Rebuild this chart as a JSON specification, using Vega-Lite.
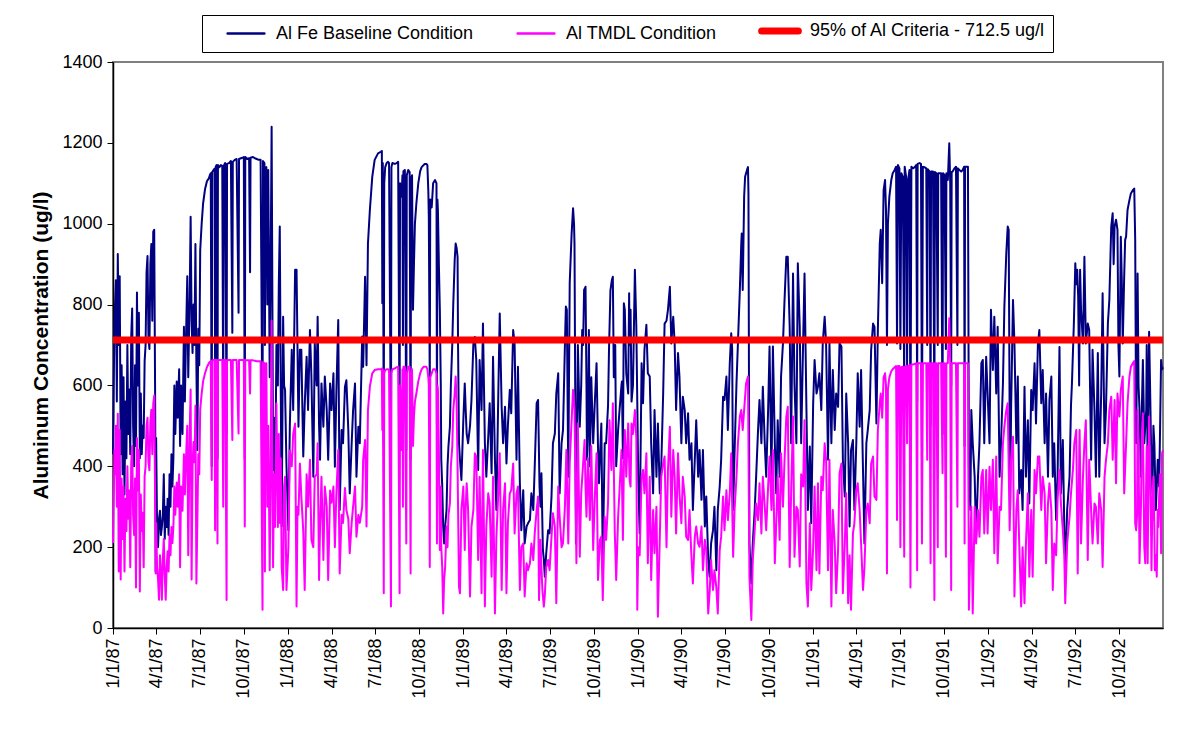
{
"$schema": "https://vega.github.io/schema/vega-lite/v6.json",
"width": 1050, "height": 566,
"autosize": {"type": "none"},
"padding": {"left": 113, "top": 62, "right": 33, "bottom": 110},
"background": "white",
"config": {"font": "Liberation Sans", "view": {"stroke": "#808080", "strokeWidth": 2}},
"layer": [
{
"data": {"values": [
{"s":"B","d":0,"v":430},{"s":"B","d":3,"v":760},{"s":"B","d":6,"v":860},{"s":"B","d":8,"v":560},{"s":"B","d":10,"v":925},{"s":"B","d":12,"v":700},{"s":"B","d":14,"v":870},{"s":"B","d":16,"v":430},{"s":"B","d":18,"v":650},{"s":"B","d":20,"v":380},{"s":"B","d":22,"v":620},{"s":"B","d":24,"v":330},{"s":"B","d":26,"v":560},{"s":"B","d":28,"v":420},{"s":"B","d":30,"v":700},{"s":"B","d":32,"v":480},{"s":"B","d":34,"v":590},{"s":"B","d":36,"v":430},{"s":"B","d":38,"v":720},{"s":"B","d":40,"v":790},{"s":"B","d":42,"v":500},{"s":"B","d":44,"v":400},{"s":"B","d":46,"v":650},{"s":"B","d":48,"v":450},{"s":"B","d":50,"v":830},{"s":"B","d":52,"v":600},{"s":"B","d":54,"v":780},{"s":"B","d":56,"v":420},{"s":"B","d":58,"v":580},{"s":"B","d":60,"v":430},{"s":"B","d":62,"v":500},{"s":"B","d":64,"v":470},{"s":"B","d":66,"v":660},{"s":"B","d":68,"v":700},{"s":"B","d":70,"v":880},{"s":"B","d":72,"v":920},{"s":"B","d":74,"v":720},{"s":"B","d":76,"v":690},{"s":"B","d":78,"v":900},{"s":"B","d":80,"v":950},{"s":"B","d":82,"v":760},{"s":"B","d":84,"v":980},{"s":"B","d":86,"v":985},{"s":"B","d":88,"v":550},{"s":"B","d":89,"v":140},{"s":"B","d":90,"v":470},{"s":"B","d":92,"v":250},{"s":"B","d":94,"v":200},{"s":"B","d":96,"v":270},{"s":"B","d":98,"v":290},{"s":"B","d":100,"v":230},{"s":"B","d":102,"v":250},{"s":"B","d":104,"v":280},{"s":"B","d":106,"v":380},{"s":"B","d":108,"v":220},{"s":"B","d":110,"v":300},{"s":"B","d":112,"v":250},{"s":"B","d":114,"v":320},{"s":"B","d":116,"v":230},{"s":"B","d":118,"v":380},{"s":"B","d":120,"v":300},{"s":"B","d":122,"v":430},{"s":"B","d":124,"v":350},{"s":"B","d":126,"v":420},{"s":"B","d":128,"v":600},{"s":"B","d":130,"v":480},{"s":"B","d":133,"v":610},{"s":"B","d":135,"v":520},{"s":"B","d":138,"v":640},{"s":"B","d":140,"v":450},{"s":"B","d":142,"v":600},{"s":"B","d":145,"v":480},{"s":"B","d":148,"v":745},{"s":"B","d":150,"v":560},{"s":"B","d":152,"v":700},{"s":"B","d":155,"v":870},{"s":"B","d":157,"v":620},{"s":"B","d":160,"v":820},{"s":"B","d":162,"v":1017},{"s":"B","d":164,"v":760},{"s":"B","d":166,"v":680},{"s":"B","d":168,"v":800},{"s":"B","d":170,"v":700},{"s":"B","d":172,"v":950},{"s":"B","d":174,"v":650},{"s":"B","d":176,"v":440},{"s":"B","d":178,"v":740},{"s":"B","d":180,"v":650},{"s":"B","d":182,"v":935},{"s":"B","d":185,"v":1000},{"s":"B","d":188,"v":1050},{"s":"B","d":192,"v":1085},{"s":"B","d":196,"v":1105},{"s":"B","d":200,"v":1112},{"s":"B","d":202,"v":1120},{"s":"B","d":204,"v":1125},{"s":"B","d":206,"v":400},{"s":"B","d":207,"v":1128},{"s":"B","d":210,"v":1133},{"s":"B","d":212,"v":1136},{"s":"B","d":213,"v":620},{"s":"B","d":214,"v":1140},{"s":"B","d":216,"v":1145},{"s":"B","d":218,"v":420},{"s":"B","d":219,"v":1145},{"s":"B","d":222,"v":1140},{"s":"B","d":225,"v":1145},{"s":"B","d":228,"v":1143},{"s":"B","d":230,"v":520},{"s":"B","d":231,"v":1143},{"s":"B","d":234,"v":1150},{"s":"B","d":237,"v":480},{"s":"B","d":238,"v":1148},{"s":"B","d":242,"v":1150},{"s":"B","d":246,"v":1155},{"s":"B","d":249,"v":730},{"s":"B","d":250,"v":1153},{"s":"B","d":254,"v":1158},{"s":"B","d":258,"v":1160},{"s":"B","d":262,"v":780},{"s":"B","d":263,"v":1160},{"s":"B","d":267,"v":1162},{"s":"B","d":270,"v":1163},{"s":"B","d":273,"v":1165},{"s":"B","d":275,"v":420},{"s":"B","d":276,"v":1165},{"s":"B","d":280,"v":1160},{"s":"B","d":284,"v":1162},{"s":"B","d":286,"v":880},{"s":"B","d":287,"v":1163},{"s":"B","d":292,"v":1165},{"s":"B","d":296,"v":1162},{"s":"B","d":300,"v":1160},{"s":"B","d":304,"v":1158},{"s":"B","d":308,"v":1158},{"s":"B","d":312,"v":440},{"s":"B","d":313,"v":1155},{"s":"B","d":316,"v":1150},{"s":"B","d":317,"v":700},{"s":"B","d":318,"v":1130},{"s":"B","d":320,"v":1140},{"s":"B","d":322,"v":800},{"s":"B","d":324,"v":1133},{"s":"B","d":327,"v":620},{"s":"B","d":329,"v":900},{"s":"B","d":331,"v":1240},{"s":"B","d":333,"v":700},{"s":"B","d":334,"v":391},{"s":"B","d":336,"v":520},{"s":"B","d":338,"v":300},{"s":"B","d":341,"v":700},{"s":"B","d":344,"v":600},{"s":"B","d":346,"v":850},{"s":"B","d":348,"v":993},{"s":"B","d":350,"v":600},{"s":"B","d":352,"v":251},{"s":"B","d":355,"v":770},{"s":"B","d":357,"v":600},
{"s":"B","d":359,"v":589},{"s":"B","d":362,"v":400},{"s":"B","d":366,"v":242},{"s":"B","d":369,"v":500},{"s":"B","d":373,"v":688},{"s":"B","d":376,"v":539},{"s":"B","d":380,"v":886},{"s":"B","d":383,"v":886},{"s":"B","d":387,"v":498},{"s":"B","d":390,"v":688},{"s":"B","d":393,"v":688},{"s":"B","d":397,"v":424},{"s":"B","d":400,"v":550},{"s":"B","d":404,"v":671},{"s":"B","d":407,"v":539},{"s":"B","d":411,"v":737},{"s":"B","d":414,"v":622},{"s":"B","d":418,"v":374},{"s":"B","d":421,"v":704},{"s":"B","d":425,"v":600},{"s":"B","d":427,"v":770},{"s":"B","d":430,"v":500},{"s":"B","d":432,"v":416},{"s":"B","d":435,"v":605},{"s":"B","d":439,"v":498},{"s":"B","d":442,"v":622},{"s":"B","d":446,"v":539},{"s":"B","d":449,"v":416},{"s":"B","d":453,"v":605},{"s":"B","d":456,"v":539},{"s":"B","d":460,"v":630},{"s":"B","d":463,"v":399},{"s":"B","d":466,"v":580},{"s":"B","d":470,"v":762},{"s":"B","d":473,"v":292},{"s":"B","d":477,"v":490},{"s":"B","d":480,"v":457},{"s":"B","d":484,"v":597},{"s":"B","d":487,"v":613},{"s":"B","d":491,"v":490},{"s":"B","d":494,"v":333},{"s":"B","d":498,"v":457},{"s":"B","d":501,"v":539},{"s":"B","d":505,"v":605},{"s":"B","d":508,"v":374},{"s":"B","d":512,"v":498},{"s":"B","d":515,"v":457},{"s":"B","d":520,"v":721},{"s":"B","d":522,"v":646},{"s":"B","d":526,"v":869},{"s":"B","d":529,"v":650},{"s":"B","d":532,"v":951},{"s":"B","d":536,"v":1034},{"s":"B","d":541,"v":1116},{"s":"B","d":546,"v":1158},{"s":"B","d":553,"v":1174},{"s":"B","d":559,"v":1178},{"s":"B","d":561,"v":1180},{"s":"B","d":562,"v":803},{"s":"B","d":563,"v":1150},{"s":"B","d":565,"v":457},{"s":"B","d":566,"v":1100},{"s":"B","d":568,"v":1140},{"s":"B","d":571,"v":1150},{"s":"B","d":574,"v":1153},{"s":"B","d":576,"v":1150},{"s":"B","d":580,"v":432},{"s":"B","d":581,"v":1140},{"s":"B","d":583,"v":1150},{"s":"B","d":588,"v":1148},{"s":"B","d":592,"v":1150},{"s":"B","d":595,"v":1153},{"s":"B","d":598,"v":457},{"s":"B","d":599,"v":1100},{"s":"B","d":602,"v":1067},{"s":"B","d":604,"v":1120},{"s":"B","d":605,"v":700},{"s":"B","d":606,"v":1130},{"s":"B","d":609,"v":1133},{"s":"B","d":612,"v":440},{"s":"B","d":613,"v":1120},{"s":"B","d":616,"v":1133},{"s":"B","d":619,"v":1128},{"s":"B","d":621,"v":416},{"s":"B","d":622,"v":1110},{"s":"B","d":624,"v":1120},{"s":"B","d":626,"v":787},{"s":"B","d":628,"v":900},{"s":"B","d":630,"v":1000},{"s":"B","d":633,"v":1050},{"s":"B","d":637,"v":1100},{"s":"B","d":641,"v":1130},{"s":"B","d":644,"v":1140},{"s":"B","d":648,"v":1145},{"s":"B","d":651,"v":1148},{"s":"B","d":654,"v":1148},{"s":"B","d":656,"v":1145},{"s":"B","d":658,"v":1080},{"s":"B","d":659,"v":1017},{"s":"B","d":661,"v":600},{"s":"B","d":662,"v":1060},{"s":"B","d":665,"v":1040},{"s":"B","d":668,"v":1100},{"s":"B","d":672,"v":1108},{"s":"B","d":675,"v":1100},{"s":"B","d":676,"v":500},{"s":"B","d":677,"v":1060},{"s":"B","d":678,"v":1034},{"s":"B","d":680,"v":900},{"s":"B","d":682,"v":787},{"s":"B","d":684,"v":600},{"s":"B","d":685,"v":416},{"s":"B","d":687,"v":350},{"s":"B","d":689,"v":250},{"s":"B","d":691,"v":209},{"s":"B","d":693,"v":250},{"s":"B","d":696,"v":292},{"s":"B","d":698,"v":400},{"s":"B","d":700,"v":450},{"s":"B","d":703,"v":498},{"s":"B","d":705,"v":600},{"s":"B","d":708,"v":704},{"s":"B","d":710,"v":800},{"s":"B","d":713,"v":910},{"s":"B","d":715,"v":951},{"s":"B","d":717,"v":940},{"s":"B","d":719,"v":918},{"s":"B","d":720,"v":700},{"s":"B","d":722,"v":457},
{"s":"B","d":724,"v":416},{"s":"B","d":727,"v":366},{"s":"B","d":731,"v":514},{"s":"B","d":734,"v":605},{"s":"B","d":736,"v":539},{"s":"B","d":738,"v":480},{"s":"B","d":741,"v":457},{"s":"B","d":745,"v":500},{"s":"B","d":748,"v":564},{"s":"B","d":752,"v":704},{"s":"B","d":755,"v":720},{"s":"B","d":758,"v":663},{"s":"B","d":762,"v":391},{"s":"B","d":765,"v":663},{"s":"B","d":769,"v":539},{"s":"B","d":772,"v":753},{"s":"B","d":776,"v":457},{"s":"B","d":779,"v":374},{"s":"B","d":783,"v":473},{"s":"B","d":786,"v":556},{"s":"B","d":790,"v":383},{"s":"B","d":793,"v":671},{"s":"B","d":797,"v":416},{"s":"B","d":800,"v":292},{"s":"B","d":804,"v":580},{"s":"B","d":807,"v":778},{"s":"B","d":811,"v":547},{"s":"B","d":814,"v":457},{"s":"B","d":818,"v":547},{"s":"B","d":821,"v":407},{"s":"B","d":824,"v":500},{"s":"B","d":828,"v":589},{"s":"B","d":831,"v":531},{"s":"B","d":835,"v":737},{"s":"B","d":838,"v":704},{"s":"B","d":842,"v":416},{"s":"B","d":845,"v":646},{"s":"B","d":849,"v":358},{"s":"B","d":852,"v":242},{"s":"B","d":856,"v":341},{"s":"B","d":859,"v":209},{"s":"B","d":863,"v":251},{"s":"B","d":866,"v":259},{"s":"B","d":870,"v":267},{"s":"B","d":873,"v":333},{"s":"B","d":877,"v":292},{"s":"B","d":880,"v":399},{"s":"B","d":884,"v":556},{"s":"B","d":887,"v":564},{"s":"B","d":890,"v":350},{"s":"B","d":892,"v":300},{"s":"B","d":894,"v":383},{"s":"B","d":897,"v":193},{"s":"B","d":899,"v":170},{"s":"B","d":901,"v":127},{"s":"B","d":904,"v":185},{"s":"B","d":908,"v":242},{"s":"B","d":911,"v":234},{"s":"B","d":915,"v":325},{"s":"B","d":918,"v":457},{"s":"B","d":922,"v":481},{"s":"B","d":925,"v":580},{"s":"B","d":929,"v":630},{"s":"B","d":932,"v":333},{"s":"B","d":936,"v":457},{"s":"B","d":939,"v":490},{"s":"B","d":943,"v":700},{"s":"B","d":945,"v":795},{"s":"B","d":947,"v":787},{"s":"B","d":950,"v":374},{"s":"B","d":953,"v":853},{"s":"B","d":957,"v":976},{"s":"B","d":960,"v":1038},{"s":"B","d":962,"v":1000},{"s":"B","d":963,"v":951},{"s":"B","d":966,"v":209},{"s":"B","d":967,"v":300},{"s":"B","d":970,"v":700},{"s":"B","d":974,"v":498},{"s":"B","d":977,"v":600},{"s":"B","d":979,"v":737},{"s":"B","d":981,"v":700},{"s":"B","d":983,"v":836},{"s":"B","d":986,"v":844},{"s":"B","d":988,"v":600},{"s":"B","d":989,"v":416},{"s":"B","d":991,"v":500},{"s":"B","d":993,"v":737},{"s":"B","d":995,"v":400},{"s":"B","d":998,"v":620},{"s":"B","d":1002,"v":457},{"s":"B","d":1005,"v":547},{"s":"B","d":1009,"v":655},{"s":"B","d":1012,"v":450},{"s":"B","d":1014,"v":358},{"s":"B","d":1016,"v":420},{"s":"B","d":1019,"v":506},{"s":"B","d":1022,"v":160},{"s":"B","d":1026,"v":457},{"s":"B","d":1029,"v":457},{"s":"B","d":1033,"v":550},{"s":"B","d":1035,"v":688},{"s":"B","d":1038,"v":836},{"s":"B","d":1041,"v":861},{"s":"B","d":1043,"v":869},{"s":"B","d":1045,"v":620},{"s":"B","d":1048,"v":700},{"s":"B","d":1050,"v":400},{"s":"B","d":1054,"v":490},{"s":"B","d":1057,"v":539},{"s":"B","d":1061,"v":600},{"s":"B","d":1062,"v":610},{"s":"B","d":1064,"v":420},{"s":"B","d":1066,"v":803},{"s":"B","d":1068,"v":787},{"s":"B","d":1071,"v":630},{"s":"B","d":1075,"v":580},{"s":"B","d":1077,"v":828},{"s":"B","d":1078,"v":700},{"s":"B","d":1080,"v":787},{"s":"B","d":1082,"v":560},{"s":"B","d":1085,"v":600},
{"s":"B","d":1089,"v":886},{"s":"B","d":1092,"v":745},{"s":"B","d":1096,"v":374},{"s":"B","d":1099,"v":234},{"s":"B","d":1103,"v":655},{"s":"B","d":1106,"v":556},{"s":"B","d":1109,"v":688},{"s":"B","d":1113,"v":750},{"s":"B","d":1116,"v":630},{"s":"B","d":1120,"v":622},{"s":"B","d":1123,"v":457},{"s":"B","d":1127,"v":333},{"s":"B","d":1130,"v":539},{"s":"B","d":1134,"v":374},{"s":"B","d":1137,"v":506},{"s":"B","d":1141,"v":333},{"s":"B","d":1144,"v":399},{"s":"B","d":1148,"v":580},{"s":"B","d":1151,"v":753},{"s":"B","d":1155,"v":760},{"s":"B","d":1158,"v":787},{"s":"B","d":1162,"v":844},{"s":"B","d":1165,"v":704},{"s":"B","d":1169,"v":770},{"s":"B","d":1172,"v":704},{"s":"B","d":1175,"v":539},{"s":"B","d":1179,"v":680},{"s":"B","d":1182,"v":622},{"s":"B","d":1186,"v":457},{"s":"B","d":1189,"v":572},{"s":"B","d":1193,"v":539},{"s":"B","d":1196,"v":457},{"s":"B","d":1200,"v":531},{"s":"B","d":1203,"v":416},{"s":"B","d":1207,"v":457},{"s":"B","d":1210,"v":292},{"s":"B","d":1214,"v":416},{"s":"B","d":1217,"v":514},{"s":"B","d":1221,"v":374},{"s":"B","d":1224,"v":440},{"s":"B","d":1228,"v":317},{"s":"B","d":1231,"v":440},{"s":"B","d":1235,"v":251},{"s":"B","d":1238,"v":325},{"s":"B","d":1242,"v":168},{"s":"B","d":1245,"v":127},{"s":"B","d":1248,"v":209},{"s":"B","d":1252,"v":242},{"s":"B","d":1255,"v":300},{"s":"B","d":1259,"v":143},{"s":"B","d":1262,"v":292},{"s":"B","d":1266,"v":350},{"s":"B","d":1269,"v":416},{"s":"B","d":1273,"v":572},{"s":"B","d":1276,"v":564},{"s":"B","d":1280,"v":622},{"s":"B","d":1283,"v":490},{"s":"B","d":1287,"v":655},{"s":"B","d":1290,"v":729},{"s":"B","d":1292,"v":690},{"s":"B","d":1294,"v":292},{"s":"B","d":1297,"v":432},{"s":"B","d":1301,"v":605},{"s":"B","d":1304,"v":704},{"s":"B","d":1308,"v":836},{"s":"B","d":1311,"v":951},{"s":"B","d":1312,"v":976},{"s":"B","d":1314,"v":836},{"s":"B","d":1317,"v":1067},{"s":"B","d":1319,"v":1116},{"s":"B","d":1321,"v":1125},{"s":"B","d":1323,"v":1133},{"s":"B","d":1325,"v":1140},{"s":"B","d":1326,"v":1075},{"s":"B","d":1328,"v":209},{"s":"B","d":1332,"v":110},{"s":"B","d":1335,"v":209},{"s":"B","d":1339,"v":292},{"s":"B","d":1342,"v":374},{"s":"B","d":1346,"v":490},{"s":"B","d":1349,"v":564},{"s":"B","d":1353,"v":457},{"s":"B","d":1356,"v":597},{"s":"B","d":1360,"v":457},{"s":"B","d":1363,"v":374},{"s":"B","d":1367,"v":539},{"s":"B","d":1370,"v":696},{"s":"B","d":1374,"v":374},{"s":"B","d":1377,"v":696},{"s":"B","d":1381,"v":457},{"s":"B","d":1384,"v":333},{"s":"B","d":1387,"v":514},{"s":"B","d":1391,"v":374},{"s":"B","d":1394,"v":622},{"s":"B","d":1398,"v":704},{"s":"B","d":1401,"v":803},{"s":"B","d":1405,"v":918},{"s":"B","d":1408,"v":918},{"s":"B","d":1412,"v":745},{"s":"B","d":1415,"v":457},{"s":"B","d":1419,"v":877},{"s":"B","d":1422,"v":605},{"s":"B","d":1426,"v":457},{"s":"B","d":1429,"v":902},{"s":"B","d":1433,"v":745},{"s":"B","d":1436,"v":457},{"s":"B","d":1440,"v":704},{"s":"B","d":1443,"v":877},{"s":"B","d":1447,"v":540},{"s":"B","d":1450,"v":292},
{"s":"B","d":1454,"v":449},{"s":"B","d":1457,"v":259},{"s":"B","d":1461,"v":556},{"s":"B","d":1464,"v":663},{"s":"B","d":1468,"v":580},{"s":"B","d":1471,"v":597},{"s":"B","d":1474,"v":630},{"s":"B","d":1478,"v":539},{"s":"B","d":1481,"v":704},{"s":"B","d":1485,"v":770},{"s":"B","d":1488,"v":704},{"s":"B","d":1492,"v":416},{"s":"B","d":1495,"v":704},{"s":"B","d":1499,"v":457},{"s":"B","d":1502,"v":638},{"s":"B","d":1506,"v":490},{"s":"B","d":1509,"v":580},{"s":"B","d":1513,"v":547},{"s":"B","d":1516,"v":704},{"s":"B","d":1520,"v":696},{"s":"B","d":1523,"v":416},{"s":"B","d":1527,"v":325},{"s":"B","d":1530,"v":580},{"s":"B","d":1534,"v":457},{"s":"B","d":1537,"v":251},{"s":"B","d":1540,"v":440},{"s":"B","d":1544,"v":465},{"s":"B","d":1547,"v":292},{"s":"B","d":1551,"v":457},{"s":"B","d":1554,"v":630},{"s":"B","d":1558,"v":498},{"s":"B","d":1561,"v":638},{"s":"B","d":1565,"v":391},{"s":"B","d":1568,"v":209},{"s":"B","d":1572,"v":457},{"s":"B","d":1575,"v":490},{"s":"B","d":1579,"v":539},{"s":"B","d":1582,"v":688},{"s":"B","d":1586,"v":753},{"s":"B","d":1589,"v":745},{"s":"B","d":1593,"v":506},{"s":"B","d":1596,"v":737},{"s":"B","d":1600,"v":951},{"s":"B","d":1602,"v":985},{"s":"B","d":1605,"v":853},{"s":"B","d":1608,"v":1083},{"s":"B","d":1611,"v":1108},{"s":"B","d":1613,"v":1034},{"s":"B","d":1615,"v":700},{"s":"B","d":1617,"v":1000},{"s":"B","d":1620,"v":1067},{"s":"B","d":1624,"v":1108},{"s":"B","d":1627,"v":1125},{"s":"B","d":1631,"v":1133},{"s":"B","d":1634,"v":1141},{"s":"B","d":1636,"v":704},{"s":"B","d":1638,"v":1145},{"s":"B","d":1641,"v":1137},{"s":"B","d":1643,"v":690},{"s":"B","d":1645,"v":1125},{"s":"B","d":1648,"v":1116},{"s":"B","d":1651,"v":600},{"s":"B","d":1652,"v":1141},{"s":"B","d":1655,"v":1116},{"s":"B","d":1657,"v":650},{"s":"B","d":1659,"v":1108},{"s":"B","d":1662,"v":1133},{"s":"B","d":1664,"v":430},{"s":"B","d":1666,"v":1141},{"s":"B","d":1669,"v":1137},{"s":"B","d":1673,"v":1140},{"s":"B","d":1676,"v":1145},{"s":"B","d":1678,"v":560},{"s":"B","d":1679,"v":1148},{"s":"B","d":1683,"v":1150},{"s":"B","d":1686,"v":1148},{"s":"B","d":1688,"v":450},{"s":"B","d":1690,"v":1141},{"s":"B","d":1693,"v":1140},{"s":"B","d":1697,"v":1137},{"s":"B","d":1699,"v":700},{"s":"B","d":1700,"v":1135},{"s":"B","d":1704,"v":1129},{"s":"B","d":1706,"v":500},{"s":"B","d":1707,"v":1129},{"s":"B","d":1711,"v":1129},{"s":"B","d":1714,"v":520},{"s":"B","d":1715,"v":1128},{"s":"B","d":1718,"v":1125},{"s":"B","d":1721,"v":700},{"s":"B","d":1722,"v":1125},{"s":"B","d":1725,"v":1125},{"s":"B","d":1728,"v":1125},{"s":"B","d":1731,"v":480},{"s":"B","d":1732,"v":1125},{"s":"B","d":1735,"v":1121},{"s":"B","d":1738,"v":690},{"s":"B","d":1739,"v":1125},{"s":"B","d":1742,"v":1108},{"s":"B","d":1745,"v":1199},{"s":"B","d":1747,"v":1100},{"s":"B","d":1749,"v":600},{"s":"B","d":1750,"v":1128},{"s":"B","d":1752,"v":1129},{"s":"B","d":1756,"v":1137},{"s":"B","d":1759,"v":1141},{"s":"B","d":1762,"v":700},{"s":"B","d":1763,"v":1137},{"s":"B","d":1766,"v":1133},{"s":"B","d":1770,"v":1129},{"s":"B","d":1773,"v":1133},{"s":"B","d":1776,"v":1141},{"s":"B","d":1777,"v":450},{"s":"B","d":1778,"v":1141},{"s":"B","d":1780,"v":1141},{"s":"B","d":1784,"v":1141},{"s":"B","d":1786,"v":400},{"s":"B","d":1789,"v":292},{"s":"B","d":1791,"v":539},{"s":"B","d":1794,"v":457},{"s":"B","d":1798,"v":374},{"s":"B","d":1801,"v":226},{"s":"B","d":1805,"v":374},{"s":"B","d":1808,"v":457},{"s":"B","d":1812,"v":655},{"s":"B","d":1815,"v":663},{"s":"B","d":1818,"v":457},
{"s":"B","d":1822,"v":671},{"s":"B","d":1825,"v":580},{"s":"B","d":1829,"v":457},{"s":"B","d":1832,"v":787},{"s":"B","d":1836,"v":638},{"s":"B","d":1839,"v":770},{"s":"B","d":1843,"v":580},{"s":"B","d":1846,"v":745},{"s":"B","d":1850,"v":374},{"s":"B","d":1853,"v":457},{"s":"B","d":1857,"v":605},{"s":"B","d":1860,"v":795},{"s":"B","d":1864,"v":927},{"s":"B","d":1867,"v":993},{"s":"B","d":1869,"v":985},{"s":"B","d":1872,"v":292},{"s":"B","d":1874,"v":539},{"s":"B","d":1878,"v":811},{"s":"B","d":1881,"v":704},{"s":"B","d":1885,"v":457},{"s":"B","d":1888,"v":622},{"s":"B","d":1891,"v":333},{"s":"B","d":1895,"v":391},{"s":"B","d":1898,"v":292},{"s":"B","d":1902,"v":597},{"s":"B","d":1905,"v":374},{"s":"B","d":1909,"v":514},{"s":"B","d":1912,"v":308},{"s":"B","d":1916,"v":589},{"s":"B","d":1919,"v":539},{"s":"B","d":1923,"v":655},{"s":"B","d":1926,"v":506},{"s":"B","d":1930,"v":704},{"s":"B","d":1933,"v":737},{"s":"B","d":1937,"v":556},{"s":"B","d":1940,"v":638},{"s":"B","d":1944,"v":457},{"s":"B","d":1947,"v":580},{"s":"B","d":1951,"v":374},{"s":"B","d":1954,"v":564},{"s":"B","d":1958,"v":622},{"s":"B","d":1961,"v":374},{"s":"B","d":1964,"v":457},{"s":"B","d":1968,"v":267},{"s":"B","d":1971,"v":374},{"s":"B","d":1975,"v":695},{"s":"B","d":1978,"v":333},{"s":"B","d":1982,"v":465},{"s":"B","d":1985,"v":250},{"s":"B","d":1987,"v":143},{"s":"B","d":1991,"v":292},{"s":"B","d":1996,"v":374},{"s":"B","d":1999,"v":550},{"s":"B","d":2001,"v":605},{"s":"B","d":2005,"v":753},{"s":"B","d":2008,"v":902},{"s":"B","d":2010,"v":850},{"s":"B","d":2012,"v":886},{"s":"B","d":2014,"v":820},{"s":"B","d":2016,"v":600},{"s":"B","d":2018,"v":886},{"s":"B","d":2020,"v":787},{"s":"B","d":2024,"v":704},{"s":"B","d":2027,"v":918},{"s":"B","d":2030,"v":704},{"s":"B","d":2034,"v":753},{"s":"B","d":2037,"v":737},{"s":"B","d":2041,"v":416},{"s":"B","d":2044,"v":688},{"s":"B","d":2048,"v":539},{"s":"B","d":2051,"v":374},{"s":"B","d":2055,"v":680},{"s":"B","d":2058,"v":374},{"s":"B","d":2062,"v":580},{"s":"B","d":2065,"v":828},{"s":"B","d":2069,"v":457},{"s":"B","d":2072,"v":539},{"s":"B","d":2076,"v":754},{"s":"B","d":2079,"v":811},{"s":"B","d":2083,"v":993},{"s":"B","d":2086,"v":1026},{"s":"B","d":2088,"v":900},{"s":"B","d":2090,"v":993},{"s":"B","d":2093,"v":1010},{"s":"B","d":2096,"v":985},{"s":"B","d":2098,"v":700},{"s":"B","d":2100,"v":622},{"s":"B","d":2103,"v":968},{"s":"B","d":2105,"v":860},{"s":"B","d":2107,"v":704},{"s":"B","d":2110,"v":869},{"s":"B","d":2112,"v":960},{"s":"B","d":2114,"v":968},{"s":"B","d":2117,"v":1034},{"s":"B","d":2121,"v":1059},{"s":"B","d":2124,"v":1075},{"s":"B","d":2128,"v":1083},{"s":"B","d":2131,"v":1087},{"s":"B","d":2133,"v":960},{"s":"B","d":2135,"v":457},{"s":"B","d":2137,"v":700},{"s":"B","d":2138,"v":877},{"s":"B","d":2140,"v":600},{"s":"B","d":2142,"v":539},{"s":"B","d":2145,"v":374},{"s":"B","d":2147,"v":550},{"s":"B","d":2149,"v":663},{"s":"B","d":2150,"v":600},{"s":"B","d":2152,"v":457},{"s":"B","d":2154,"v":500},{"s":"B","d":2156,"v":539},{"s":"B","d":2157,"v":700},{"s":"B","d":2159,"v":374},{"s":"B","d":2162,"v":733},{"s":"B","d":2164,"v":600},{"s":"B","d":2166,"v":457},{"s":"B","d":2169,"v":333},{"s":"B","d":2171,"v":500},{"s":"B","d":2173,"v":457},{"s":"B","d":2176,"v":292},{"s":"B","d":2178,"v":350},{"s":"B","d":2180,"v":416},{"s":"B","d":2183,"v":350},{"s":"B","d":2185,"v":500},{"s":"B","d":2187,"v":663},{"s":"B","d":2189,"v":640},{"s":"B","d":2191,"v":645},
{"s":"T","d":0,"v":210},{"s":"T","d":2,"v":350},{"s":"T","d":3,"v":440},{"s":"T","d":4,"v":380},{"s":"T","d":6,"v":500},{"s":"T","d":8,"v":300},{"s":"T","d":10,"v":530},{"s":"T","d":12,"v":140},{"s":"T","d":14,"v":490},{"s":"T","d":16,"v":120},{"s":"T","d":18,"v":370},{"s":"T","d":20,"v":220},{"s":"T","d":22,"v":350},{"s":"T","d":24,"v":140},{"s":"T","d":26,"v":320},{"s":"T","d":28,"v":240},{"s":"T","d":30,"v":400},{"s":"T","d":32,"v":270},{"s":"T","d":34,"v":340},{"s":"T","d":36,"v":150},{"s":"T","d":38,"v":410},{"s":"T","d":40,"v":450},{"s":"T","d":42,"v":280},{"s":"T","d":44,"v":230},{"s":"T","d":46,"v":370},{"s":"T","d":48,"v":100},{"s":"T","d":50,"v":470},{"s":"T","d":52,"v":340},{"s":"T","d":54,"v":440},{"s":"T","d":56,"v":90},{"s":"T","d":58,"v":330},{"s":"T","d":60,"v":240},{"s":"T","d":62,"v":285},{"s":"T","d":64,"v":150},{"s":"T","d":66,"v":375},{"s":"T","d":68,"v":400},{"s":"T","d":70,"v":500},{"s":"T","d":72,"v":520},{"s":"T","d":74,"v":410},{"s":"T","d":76,"v":390},{"s":"T","d":78,"v":510},{"s":"T","d":80,"v":540},{"s":"T","d":82,"v":430},{"s":"T","d":84,"v":555},{"s":"T","d":86,"v":575},{"s":"T","d":88,"v":300},{"s":"T","d":89,"v":135},{"s":"T","d":90,"v":260},{"s":"T","d":92,"v":150},{"s":"T","d":94,"v":120},{"s":"T","d":96,"v":70},{"s":"T","d":98,"v":180},{"s":"T","d":100,"v":140},{"s":"T","d":102,"v":70},{"s":"T","d":104,"v":170},{"s":"T","d":106,"v":220},{"s":"T","d":108,"v":130},{"s":"T","d":110,"v":70},{"s":"T","d":112,"v":150},{"s":"T","d":114,"v":190},{"s":"T","d":116,"v":140},{"s":"T","d":118,"v":230},{"s":"T","d":120,"v":180},{"s":"T","d":122,"v":250},{"s":"T","d":124,"v":210},{"s":"T","d":126,"v":250},{"s":"T","d":128,"v":350},{"s":"T","d":130,"v":280},{"s":"T","d":133,"v":360},{"s":"T","d":135,"v":300},{"s":"T","d":138,"v":380},{"s":"T","d":140,"v":150},{"s":"T","d":142,"v":350},{"s":"T","d":145,"v":290},{"s":"T","d":148,"v":430},{"s":"T","d":150,"v":330},{"s":"T","d":152,"v":410},{"s":"T","d":155,"v":500},{"s":"T","d":157,"v":180},{"s":"T","d":160,"v":480},{"s":"T","d":162,"v":590},{"s":"T","d":164,"v":120},{"s":"T","d":166,"v":400},{"s":"T","d":168,"v":460},{"s":"T","d":170,"v":410},{"s":"T","d":172,"v":550},{"s":"T","d":174,"v":110},{"s":"T","d":176,"v":260},{"s":"T","d":178,"v":430},{"s":"T","d":180,"v":380},{"s":"T","d":182,"v":540},{"s":"T","d":185,"v":580},{"s":"T","d":188,"v":610},{"s":"T","d":192,"v":630},{"s":"T","d":196,"v":645},{"s":"T","d":200,"v":655},{"s":"T","d":202,"v":658},{"s":"T","d":204,"v":660},{"s":"T","d":206,"v":366},{"s":"T","d":207,"v":662},{"s":"T","d":210,"v":663},{"s":"T","d":212,"v":663},{"s":"T","d":213,"v":242},{"s":"T","d":214,"v":663},{"s":"T","d":216,"v":663},{"s":"T","d":218,"v":209},{"s":"T","d":219,"v":663},{"s":"T","d":222,"v":663},{"s":"T","d":225,"v":663},{"s":"T","d":228,"v":663},{"s":"T","d":230,"v":300},{"s":"T","d":231,"v":663},{"s":"T","d":234,"v":663},{"s":"T","d":237,"v":69},{"s":"T","d":238,"v":663},{"s":"T","d":242,"v":663},{"s":"T","d":246,"v":663},{"s":"T","d":249,"v":465},{"s":"T","d":250,"v":663},{"s":"T","d":254,"v":663},{"s":"T","d":258,"v":663},{"s":"T","d":262,"v":481},{"s":"T","d":263,"v":663},{"s":"T","d":267,"v":663},{"s":"T","d":270,"v":663},{"s":"T","d":273,"v":663},{"s":"T","d":275,"v":251},{"s":"T","d":276,"v":663},{"s":"T","d":280,"v":662},{"s":"T","d":284,"v":662},{"s":"T","d":286,"v":580},{"s":"T","d":287,"v":662},{"s":"T","d":292,"v":662},{"s":"T","d":296,"v":661},{"s":"T","d":300,"v":660},{"s":"T","d":304,"v":660},{"s":"T","d":308,"v":660},{"s":"T","d":312,"v":45},{"s":"T","d":313,"v":658},{"s":"T","d":316,"v":655},{"s":"T","d":317,"v":140},{"s":"T","d":318,"v":640},{"s":"T","d":320,"v":655},{"s":"T","d":322,"v":300},{"s":"T","d":324,"v":500},{"s":"T","d":327,"v":143},{"s":"T","d":329,"v":400},{"s":"T","d":331,"v":760},{"s":"T","d":333,"v":300},{"s":"T","d":334,"v":150},{"s":"T","d":336,"v":380},{"s":"T","d":338,"v":250},{"s":"T","d":341,"v":556},{"s":"T","d":344,"v":250},{"s":"T","d":346,"v":480},{"s":"T","d":348,"v":260},{"s":"T","d":350,"v":420},{"s":"T","d":352,"v":150},{"s":"T","d":355,"v":94},{"s":"T","d":357,"v":350},
{"s":"T","d":359,"v":374},{"s":"T","d":362,"v":94},{"s":"T","d":366,"v":200},{"s":"T","d":369,"v":439},{"s":"T","d":373,"v":400},{"s":"T","d":376,"v":480},{"s":"T","d":380,"v":506},{"s":"T","d":383,"v":53},{"s":"T","d":385,"v":300},{"s":"T","d":387,"v":280},{"s":"T","d":390,"v":407},{"s":"T","d":393,"v":325},{"s":"T","d":397,"v":240},{"s":"T","d":400,"v":94},{"s":"T","d":404,"v":380},{"s":"T","d":407,"v":300},{"s":"T","d":411,"v":416},{"s":"T","d":414,"v":218},{"s":"T","d":418,"v":200},{"s":"T","d":421,"v":374},{"s":"T","d":425,"v":380},{"s":"T","d":427,"v":457},{"s":"T","d":430,"v":119},{"s":"T","d":432,"v":250},{"s":"T","d":435,"v":374},{"s":"T","d":439,"v":168},{"s":"T","d":442,"v":350},{"s":"T","d":446,"v":300},{"s":"T","d":449,"v":119},{"s":"T","d":453,"v":340},{"s":"T","d":456,"v":310},{"s":"T","d":460,"v":350},{"s":"T","d":463,"v":200},{"s":"T","d":466,"v":330},{"s":"T","d":470,"v":440},{"s":"T","d":473,"v":135},{"s":"T","d":477,"v":280},{"s":"T","d":480,"v":260},{"s":"T","d":484,"v":346},{"s":"T","d":487,"v":292},{"s":"T","d":491,"v":270},{"s":"T","d":494,"v":185},{"s":"T","d":498,"v":260},{"s":"T","d":501,"v":300},{"s":"T","d":505,"v":350},{"s":"T","d":508,"v":226},{"s":"T","d":512,"v":280},{"s":"T","d":515,"v":260},{"s":"T","d":520,"v":300},{"s":"T","d":522,"v":416},{"s":"T","d":526,"v":465},{"s":"T","d":529,"v":251},{"s":"T","d":532,"v":539},{"s":"T","d":536,"v":597},{"s":"T","d":541,"v":630},{"s":"T","d":546,"v":638},{"s":"T","d":553,"v":640},{"s":"T","d":559,"v":640},{"s":"T","d":561,"v":642},{"s":"T","d":562,"v":490},{"s":"T","d":563,"v":640},{"s":"T","d":565,"v":86},{"s":"T","d":566,"v":630},{"s":"T","d":568,"v":638},{"s":"T","d":571,"v":640},{"s":"T","d":574,"v":640},{"s":"T","d":576,"v":638},{"s":"T","d":580,"v":53},{"s":"T","d":581,"v":630},{"s":"T","d":583,"v":640},{"s":"T","d":588,"v":642},{"s":"T","d":592,"v":645},{"s":"T","d":595,"v":646},{"s":"T","d":598,"v":86},{"s":"T","d":599,"v":600},{"s":"T","d":602,"v":440},{"s":"T","d":604,"v":640},{"s":"T","d":605,"v":300},{"s":"T","d":606,"v":646},{"s":"T","d":609,"v":646},{"s":"T","d":612,"v":209},{"s":"T","d":613,"v":630},{"s":"T","d":616,"v":646},{"s":"T","d":619,"v":646},{"s":"T","d":621,"v":135},{"s":"T","d":622,"v":620},{"s":"T","d":624,"v":640},{"s":"T","d":626,"v":450},{"s":"T","d":628,"v":523},{"s":"T","d":630,"v":560},{"s":"T","d":633,"v":580},{"s":"T","d":637,"v":610},{"s":"T","d":641,"v":630},{"s":"T","d":644,"v":640},{"s":"T","d":648,"v":646},{"s":"T","d":651,"v":646},{"s":"T","d":654,"v":646},{"s":"T","d":656,"v":640},{"s":"T","d":658,"v":620},{"s":"T","d":659,"v":600},{"s":"T","d":661,"v":151},{"s":"T","d":662,"v":620},{"s":"T","d":665,"v":630},{"s":"T","d":668,"v":640},{"s":"T","d":672,"v":640},{"s":"T","d":675,"v":630},{"s":"T","d":676,"v":209},{"s":"T","d":677,"v":600},{"s":"T","d":678,"v":590},{"s":"T","d":680,"v":450},{"s":"T","d":682,"v":193},{"s":"T","d":684,"v":350},{"s":"T","d":685,"v":200},{"s":"T","d":687,"v":150},{"s":"T","d":689,"v":36},{"s":"T","d":691,"v":120},{"s":"T","d":693,"v":150},{"s":"T","d":696,"v":251},{"s":"T","d":698,"v":200},{"s":"T","d":700,"v":280},{"s":"T","d":703,"v":308},{"s":"T","d":705,"v":400},{"s":"T","d":708,"v":450},{"s":"T","d":710,"v":539},{"s":"T","d":713,"v":580},{"s":"T","d":715,"v":622},{"s":"T","d":717,"v":560},{"s":"T","d":719,"v":400},{"s":"T","d":720,"v":300},{"s":"T","d":722,"v":102},
{"s":"T","d":724,"v":86},{"s":"T","d":727,"v":292},{"s":"T","d":731,"v":350},{"s":"T","d":734,"v":193},{"s":"T","d":736,"v":300},{"s":"T","d":738,"v":358},{"s":"T","d":741,"v":292},{"s":"T","d":745,"v":78},{"s":"T","d":748,"v":251},{"s":"T","d":752,"v":292},{"s":"T","d":755,"v":432},{"s":"T","d":758,"v":424},{"s":"T","d":762,"v":168},{"s":"T","d":765,"v":374},{"s":"T","d":769,"v":86},{"s":"T","d":772,"v":440},{"s":"T","d":776,"v":53},{"s":"T","d":779,"v":251},{"s":"T","d":783,"v":333},{"s":"T","d":786,"v":308},{"s":"T","d":790,"v":127},{"s":"T","d":793,"v":374},{"s":"T","d":797,"v":36},{"s":"T","d":800,"v":226},{"s":"T","d":804,"v":333},{"s":"T","d":807,"v":432},{"s":"T","d":811,"v":94},{"s":"T","d":814,"v":292},{"s":"T","d":818,"v":358},{"s":"T","d":821,"v":86},{"s":"T","d":824,"v":259},{"s":"T","d":828,"v":333},{"s":"T","d":831,"v":341},{"s":"T","d":835,"v":407},{"s":"T","d":838,"v":234},{"s":"T","d":842,"v":333},{"s":"T","d":845,"v":350},{"s":"T","d":849,"v":94},{"s":"T","d":852,"v":200},{"s":"T","d":856,"v":209},{"s":"T","d":859,"v":78},{"s":"T","d":863,"v":160},{"s":"T","d":866,"v":143},{"s":"T","d":870,"v":160},{"s":"T","d":873,"v":209},{"s":"T","d":877,"v":168},{"s":"T","d":880,"v":234},{"s":"T","d":884,"v":292},{"s":"T","d":887,"v":325},{"s":"T","d":889,"v":69},{"s":"T","d":892,"v":218},{"s":"T","d":894,"v":150},{"s":"T","d":896,"v":94},{"s":"T","d":899,"v":53},{"s":"T","d":901,"v":80},{"s":"T","d":904,"v":150},{"s":"T","d":908,"v":168},{"s":"T","d":911,"v":143},{"s":"T","d":915,"v":226},{"s":"T","d":918,"v":284},{"s":"T","d":922,"v":251},{"s":"T","d":925,"v":61},{"s":"T","d":929,"v":350},{"s":"T","d":932,"v":275},{"s":"T","d":936,"v":200},{"s":"T","d":939,"v":209},{"s":"T","d":943,"v":300},{"s":"T","d":946,"v":440},{"s":"T","d":950,"v":209},{"s":"T","d":953,"v":407},{"s":"T","d":957,"v":514},{"s":"T","d":960,"v":589},{"s":"T","d":963,"v":540},{"s":"T","d":967,"v":160},{"s":"T","d":970,"v":506},{"s":"T","d":974,"v":176},{"s":"T","d":977,"v":333},{"s":"T","d":981,"v":407},{"s":"T","d":984,"v":465},{"s":"T","d":986,"v":350},{"s":"T","d":988,"v":275},{"s":"T","d":991,"v":420},{"s":"T","d":995,"v":267},{"s":"T","d":998,"v":450},{"s":"T","d":1002,"v":193},{"s":"T","d":1005,"v":310},{"s":"T","d":1009,"v":432},{"s":"T","d":1012,"v":119},{"s":"T","d":1016,"v":218},{"s":"T","d":1019,"v":226},{"s":"T","d":1022,"v":69},{"s":"T","d":1026,"v":275},{"s":"T","d":1029,"v":218},{"s":"T","d":1033,"v":310},{"s":"T","d":1036,"v":514},{"s":"T","d":1040,"v":391},{"s":"T","d":1043,"v":556},{"s":"T","d":1047,"v":240},{"s":"T","d":1050,"v":119},{"s":"T","d":1054,"v":275},{"s":"T","d":1057,"v":341},{"s":"T","d":1061,"v":440},{"s":"T","d":1064,"v":218},{"s":"T","d":1066,"v":400},{"s":"T","d":1068,"v":490},{"s":"T","d":1071,"v":374},{"s":"T","d":1075,"v":506},{"s":"T","d":1078,"v":366},{"s":"T","d":1080,"v":350},{"s":"T","d":1082,"v":506},{"s":"T","d":1085,"v":480},
{"s":"T","d":1089,"v":539},{"s":"T","d":1092,"v":470},{"s":"T","d":1094,"v":45},{"s":"T","d":1096,"v":200},{"s":"T","d":1099,"v":180},{"s":"T","d":1103,"v":374},{"s":"T","d":1106,"v":391},{"s":"T","d":1109,"v":333},{"s":"T","d":1113,"v":432},{"s":"T","d":1116,"v":160},{"s":"T","d":1120,"v":374},{"s":"T","d":1123,"v":119},{"s":"T","d":1127,"v":292},{"s":"T","d":1130,"v":185},{"s":"T","d":1134,"v":300},{"s":"T","d":1137,"v":28},{"s":"T","d":1141,"v":226},{"s":"T","d":1144,"v":374},{"s":"T","d":1148,"v":407},{"s":"T","d":1151,"v":424},{"s":"T","d":1155,"v":200},{"s":"T","d":1158,"v":391},{"s":"T","d":1162,"v":498},{"s":"T","d":1165,"v":275},{"s":"T","d":1169,"v":440},{"s":"T","d":1172,"v":374},{"s":"T","d":1175,"v":234},{"s":"T","d":1179,"v":432},{"s":"T","d":1182,"v":333},{"s":"T","d":1186,"v":259},{"s":"T","d":1189,"v":374},{"s":"T","d":1193,"v":325},{"s":"T","d":1196,"v":226},{"s":"T","d":1200,"v":218},{"s":"T","d":1203,"v":292},{"s":"T","d":1207,"v":176},{"s":"T","d":1210,"v":110},{"s":"T","d":1214,"v":226},{"s":"T","d":1217,"v":251},{"s":"T","d":1221,"v":209},{"s":"T","d":1224,"v":201},{"s":"T","d":1228,"v":251},{"s":"T","d":1231,"v":143},{"s":"T","d":1235,"v":218},{"s":"T","d":1238,"v":193},{"s":"T","d":1242,"v":36},{"s":"T","d":1245,"v":90},{"s":"T","d":1248,"v":168},{"s":"T","d":1252,"v":94},{"s":"T","d":1255,"v":143},{"s":"T","d":1259,"v":100},{"s":"T","d":1262,"v":36},{"s":"T","d":1266,"v":193},{"s":"T","d":1269,"v":226},{"s":"T","d":1273,"v":325},{"s":"T","d":1276,"v":242},{"s":"T","d":1280,"v":341},{"s":"T","d":1283,"v":267},{"s":"T","d":1287,"v":333},{"s":"T","d":1290,"v":432},{"s":"T","d":1294,"v":176},{"s":"T","d":1297,"v":292},{"s":"T","d":1301,"v":374},{"s":"T","d":1304,"v":457},{"s":"T","d":1308,"v":523},{"s":"T","d":1311,"v":539},{"s":"T","d":1314,"v":490},{"s":"T","d":1318,"v":556},{"s":"T","d":1321,"v":605},{"s":"T","d":1325,"v":622},{"s":"T","d":1328,"v":127},{"s":"T","d":1332,"v":20},{"s":"T","d":1335,"v":168},{"s":"T","d":1339,"v":242},{"s":"T","d":1342,"v":308},{"s":"T","d":1346,"v":267},{"s":"T","d":1349,"v":358},{"s":"T","d":1353,"v":234},{"s":"T","d":1356,"v":374},{"s":"T","d":1360,"v":300},{"s":"T","d":1363,"v":242},{"s":"T","d":1367,"v":350},{"s":"T","d":1370,"v":424},{"s":"T","d":1374,"v":292},{"s":"T","d":1377,"v":440},{"s":"T","d":1381,"v":160},{"s":"T","d":1384,"v":260},{"s":"T","d":1387,"v":374},{"s":"T","d":1391,"v":218},{"s":"T","d":1394,"v":432},{"s":"T","d":1398,"v":300},{"s":"T","d":1401,"v":407},{"s":"T","d":1405,"v":523},{"s":"T","d":1408,"v":547},{"s":"T","d":1412,"v":151},{"s":"T","d":1415,"v":333},{"s":"T","d":1419,"v":523},{"s":"T","d":1422,"v":176},{"s":"T","d":1426,"v":300},{"s":"T","d":1429,"v":292},{"s":"T","d":1433,"v":152},{"s":"T","d":1436,"v":380},{"s":"T","d":1440,"v":350},{"s":"T","d":1443,"v":514},{"s":"T","d":1447,"v":110},{"s":"T","d":1450,"v":53},
{"s":"T","d":1454,"v":259},{"s":"T","d":1457,"v":94},{"s":"T","d":1461,"v":200},{"s":"T","d":1464,"v":350},{"s":"T","d":1468,"v":143},{"s":"T","d":1471,"v":358},{"s":"T","d":1474,"v":135},{"s":"T","d":1478,"v":374},{"s":"T","d":1481,"v":341},{"s":"T","d":1485,"v":457},{"s":"T","d":1488,"v":416},{"s":"T","d":1492,"v":143},{"s":"T","d":1495,"v":416},{"s":"T","d":1499,"v":53},{"s":"T","d":1502,"v":292},{"s":"T","d":1506,"v":209},{"s":"T","d":1509,"v":86},{"s":"T","d":1513,"v":193},{"s":"T","d":1516,"v":383},{"s":"T","d":1520,"v":407},{"s":"T","d":1523,"v":86},{"s":"T","d":1527,"v":209},{"s":"T","d":1530,"v":333},{"s":"T","d":1534,"v":61},{"s":"T","d":1537,"v":180},{"s":"T","d":1540,"v":45},{"s":"T","d":1544,"v":234},{"s":"T","d":1547,"v":259},{"s":"T","d":1551,"v":341},{"s":"T","d":1554,"v":358},{"s":"T","d":1558,"v":292},{"s":"T","d":1561,"v":209},{"s":"T","d":1565,"v":94},{"s":"T","d":1568,"v":150},{"s":"T","d":1572,"v":292},{"s":"T","d":1575,"v":308},{"s":"T","d":1579,"v":259},{"s":"T","d":1582,"v":407},{"s":"T","d":1586,"v":424},{"s":"T","d":1589,"v":325},{"s":"T","d":1593,"v":317},{"s":"T","d":1596,"v":490},{"s":"T","d":1600,"v":556},{"s":"T","d":1602,"v":580},{"s":"T","d":1605,"v":520},{"s":"T","d":1608,"v":620},{"s":"T","d":1611,"v":630},{"s":"T","d":1613,"v":600},{"s":"T","d":1615,"v":135},{"s":"T","d":1617,"v":590},{"s":"T","d":1620,"v":620},{"s":"T","d":1624,"v":635},{"s":"T","d":1627,"v":640},{"s":"T","d":1631,"v":645},{"s":"T","d":1634,"v":648},{"s":"T","d":1636,"v":267},{"s":"T","d":1638,"v":648},{"s":"T","d":1641,"v":648},{"s":"T","d":1643,"v":200},{"s":"T","d":1645,"v":645},{"s":"T","d":1648,"v":646},{"s":"T","d":1651,"v":176},{"s":"T","d":1652,"v":646},{"s":"T","d":1655,"v":648},{"s":"T","d":1657,"v":457},{"s":"T","d":1659,"v":648},{"s":"T","d":1662,"v":650},{"s":"T","d":1664,"v":100},{"s":"T","d":1666,"v":652},{"s":"T","d":1669,"v":652},{"s":"T","d":1673,"v":653},{"s":"T","d":1676,"v":655},{"s":"T","d":1678,"v":143},{"s":"T","d":1679,"v":655},{"s":"T","d":1683,"v":655},{"s":"T","d":1686,"v":655},{"s":"T","d":1688,"v":209},{"s":"T","d":1690,"v":655},{"s":"T","d":1693,"v":655},{"s":"T","d":1697,"v":655},{"s":"T","d":1699,"v":416},{"s":"T","d":1700,"v":655},{"s":"T","d":1704,"v":655},{"s":"T","d":1706,"v":160},{"s":"T","d":1707,"v":655},{"s":"T","d":1711,"v":655},{"s":"T","d":1714,"v":69},{"s":"T","d":1715,"v":655},{"s":"T","d":1718,"v":655},{"s":"T","d":1721,"v":200},{"s":"T","d":1722,"v":655},{"s":"T","d":1725,"v":655},{"s":"T","d":1728,"v":655},{"s":"T","d":1731,"v":383},{"s":"T","d":1732,"v":655},{"s":"T","d":1735,"v":655},{"s":"T","d":1738,"v":176},{"s":"T","d":1739,"v":655},{"s":"T","d":1742,"v":655},{"s":"T","d":1745,"v":766},{"s":"T","d":1747,"v":655},{"s":"T","d":1749,"v":94},{"s":"T","d":1750,"v":655},{"s":"T","d":1752,"v":655},{"s":"T","d":1756,"v":655},{"s":"T","d":1759,"v":655},{"s":"T","d":1762,"v":300},{"s":"T","d":1763,"v":655},{"s":"T","d":1766,"v":655},{"s":"T","d":1770,"v":655},{"s":"T","d":1773,"v":655},{"s":"T","d":1776,"v":655},{"s":"T","d":1777,"v":209},{"s":"T","d":1778,"v":655},{"s":"T","d":1780,"v":655},{"s":"T","d":1784,"v":655},{"s":"T","d":1786,"v":45},{"s":"T","d":1789,"v":200},{"s":"T","d":1791,"v":300},{"s":"T","d":1794,"v":36},{"s":"T","d":1798,"v":300},{"s":"T","d":1801,"v":209},{"s":"T","d":1805,"v":292},{"s":"T","d":1808,"v":226},{"s":"T","d":1812,"v":374},{"s":"T","d":1815,"v":391},{"s":"T","d":1818,"v":234},
{"s":"T","d":1822,"v":391},{"s":"T","d":1825,"v":234},{"s":"T","d":1829,"v":399},{"s":"T","d":1832,"v":292},{"s":"T","d":1836,"v":416},{"s":"T","d":1839,"v":185},{"s":"T","d":1843,"v":424},{"s":"T","d":1846,"v":160},{"s":"T","d":1850,"v":300},{"s":"T","d":1853,"v":292},{"s":"T","d":1857,"v":457},{"s":"T","d":1860,"v":498},{"s":"T","d":1864,"v":539},{"s":"T","d":1867,"v":556},{"s":"T","d":1869,"v":400},{"s":"T","d":1871,"v":242},{"s":"T","d":1874,"v":416},{"s":"T","d":1878,"v":473},{"s":"T","d":1881,"v":78},{"s":"T","d":1885,"v":292},{"s":"T","d":1888,"v":341},{"s":"T","d":1891,"v":209},{"s":"T","d":1895,"v":53},{"s":"T","d":1898,"v":200},{"s":"T","d":1902,"v":61},{"s":"T","d":1905,"v":209},{"s":"T","d":1909,"v":333},{"s":"T","d":1912,"v":127},{"s":"T","d":1916,"v":292},{"s":"T","d":1919,"v":127},{"s":"T","d":1923,"v":391},{"s":"T","d":1926,"v":333},{"s":"T","d":1930,"v":424},{"s":"T","d":1933,"v":424},{"s":"T","d":1937,"v":292},{"s":"T","d":1940,"v":374},{"s":"T","d":1944,"v":333},{"s":"T","d":1947,"v":160},{"s":"T","d":1951,"v":308},{"s":"T","d":1954,"v":358},{"s":"T","d":1958,"v":292},{"s":"T","d":1961,"v":94},{"s":"T","d":1964,"v":209},{"s":"T","d":1968,"v":180},{"s":"T","d":1971,"v":317},{"s":"T","d":1975,"v":391},{"s":"T","d":1978,"v":308},{"s":"T","d":1982,"v":242},{"s":"T","d":1985,"v":180},{"s":"T","d":1987,"v":61},{"s":"T","d":1991,"v":209},{"s":"T","d":1996,"v":275},{"s":"T","d":1999,"v":333},{"s":"T","d":2003,"v":391},{"s":"T","d":2006,"v":457},{"s":"T","d":2010,"v":490},{"s":"T","d":2013,"v":135},{"s":"T","d":2017,"v":490},{"s":"T","d":2020,"v":209},{"s":"T","d":2024,"v":374},{"s":"T","d":2027,"v":457},{"s":"T","d":2030,"v":514},{"s":"T","d":2034,"v":168},{"s":"T","d":2037,"v":416},{"s":"T","d":2041,"v":292},{"s":"T","d":2044,"v":209},{"s":"T","d":2048,"v":308},{"s":"T","d":2051,"v":300},{"s":"T","d":2055,"v":209},{"s":"T","d":2058,"v":333},{"s":"T","d":2062,"v":292},{"s":"T","d":2065,"v":151},{"s":"T","d":2069,"v":374},{"s":"T","d":2072,"v":416},{"s":"T","d":2076,"v":457},{"s":"T","d":2079,"v":539},{"s":"T","d":2083,"v":572},{"s":"T","d":2086,"v":416},{"s":"T","d":2090,"v":564},{"s":"T","d":2093,"v":358},{"s":"T","d":2096,"v":580},{"s":"T","d":2100,"v":523},{"s":"T","d":2103,"v":589},{"s":"T","d":2107,"v":622},{"s":"T","d":2110,"v":333},{"s":"T","d":2114,"v":457},{"s":"T","d":2117,"v":556},{"s":"T","d":2121,"v":622},{"s":"T","d":2124,"v":646},{"s":"T","d":2128,"v":655},{"s":"T","d":2131,"v":660},{"s":"T","d":2133,"v":259},{"s":"T","d":2135,"v":242},{"s":"T","d":2137,"v":280},{"s":"T","d":2138,"v":539},{"s":"T","d":2140,"v":450},{"s":"T","d":2142,"v":160},{"s":"T","d":2145,"v":300},{"s":"T","d":2147,"v":480},{"s":"T","d":2149,"v":531},{"s":"T","d":2150,"v":400},{"s":"T","d":2152,"v":200},{"s":"T","d":2154,"v":160},{"s":"T","d":2156,"v":374},{"s":"T","d":2157,"v":450},{"s":"T","d":2159,"v":160},{"s":"T","d":2162,"v":523},{"s":"T","d":2164,"v":400},{"s":"T","d":2166,"v":250},{"s":"T","d":2167,"v":143},{"s":"T","d":2169,"v":320},{"s":"T","d":2171,"v":374},{"s":"T","d":2173,"v":250},{"s":"T","d":2174,"v":143},{"s":"T","d":2176,"v":180},{"s":"T","d":2178,"v":127},{"s":"T","d":2180,"v":292},{"s":"T","d":2181,"v":250},{"s":"T","d":2183,"v":325},{"s":"T","d":2185,"v":380},{"s":"T","d":2187,"v":185},{"s":"T","d":2189,"v":432},{"s":"T","d":2191,"v":440}
]},
"mark": {"type": "line", "strokeWidth": 2, "strokeJoin": "round"},
"encoding": {
"x": {"field": "d", "type": "quantitative", "scale": {"domain": [0, 2191], "nice": false, "zero": false},
"axis": {"title": null, "values": [0,90,181,273,365,456,547,639,731,821,912,1004,1096,1186,1277,1369,1461,1551,1642,1734,1826,1917,2008,2100],
"labelExpr": "timeFormat(datetime(1987, 0, 1 + datum.value), '%-m/%-d/%y')",
"labelAngle": 270, "labelFontSize": 18, "labelFont": "Liberation Sans", "labelColor": "black", "labelPadding": 4, "labelFlush": false, "labelOverlap": false, "labelBound": false,
"tickColor": "black", "tickSize": 6, "domainColor": "black", "domainWidth": 1.5, "grid": false}},
"y": {"field": "v", "type": "quantitative", "scale": {"domain": [0, 1400], "nice": false},
"axis": {"title": "Aluminum Concentration (ug/l)", "titleFontSize": 21, "titleFontWeight": "bold", "titleFont": "Liberation Sans", "titleColor": "black", "titlePadding": 10,
"values": [0,200,400,600,800,1000,1200,1400], "format": "d", "labelFontSize": 18, "labelFont": "Liberation Sans", "labelColor": "black", "labelPadding": 5,
"tickColor": "black", "tickSize": 6, "domainColor": "black", "domainWidth": 1.5, "grid": false}},
"color": {"field": "s", "type": "nominal", "scale": {"domain": ["B", "T", "R"], "range": ["#000080", "#FF00FF", "#FF0000"]},
"legend": {"orient": "none", "legendX": 89, "legendY": -47, "direction": "horizontal", "title": null,
"symbolType": "stroke", "symbolSize": 1350, "symbolStrokeWidth": 2.5, "symbolOffset": 28, "labelOffset": 21, "columnPadding": 25, "padding": 7,
"labelFontSize": 18, "labelFont": "Liberation Sans", "labelColor": "black", "labelLimit": 400,
"strokeColor": "black", "fillColor": "white",
"labelExpr": "datum.value == 'B' ? 'Al Fe Baseline Condition' : datum.value == 'T' ? 'Al TMDL Condition' : '95% of Al Criteria - 712.5 ug/l\u00a0'",
"encode": {"symbols": {"update": {"strokeWidth": {"signal": "datum.value == 'R' ? 7 : 2.5"}, "strokeCap": {"value": "round"}}}}}}
}
},
{
"data": {"values": [{"s":"R","d":0,"v":712.5},{"s":"R","d":2191,"v":712.5}]},
"mark": {"type": "line", "strokeWidth": 7},
"encoding": {
"x": {"field": "d", "type": "quantitative"},
"y": {"field": "v", "type": "quantitative"},
"color": {"field": "s", "type": "nominal"}
}
}
]
}
